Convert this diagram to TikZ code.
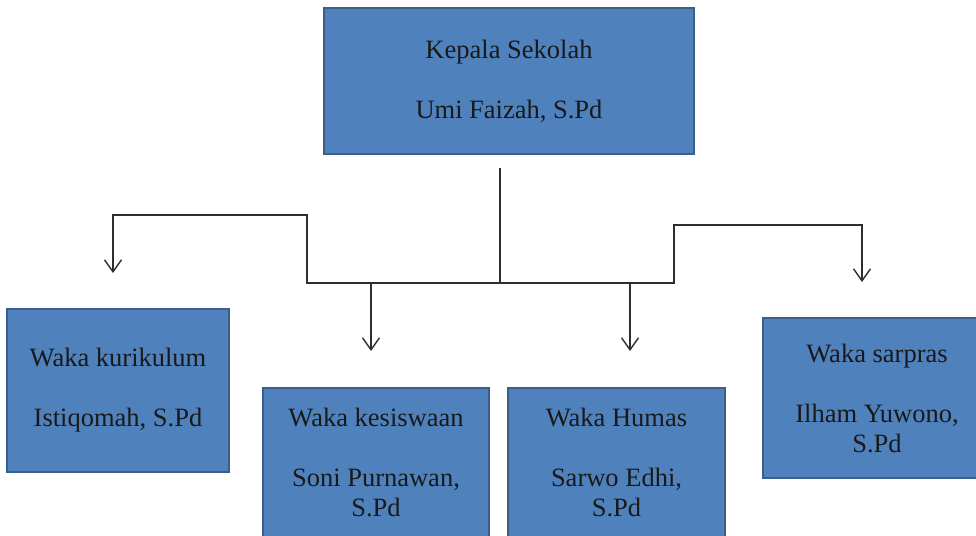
\documentclass[tikz,border=0pt]{standalone}
\usepackage{fontspec}
\setmainfont{Liberation Serif}
\usetikzlibrary{arrows.meta}
\definecolor{boxfill}{HTML}{4F81BD}
\definecolor{boxline}{HTML}{3A5F8B}
\definecolor{conncol}{HTML}{2E2E2E}
\begin{document}
\begin{tikzpicture}[x=1pt,y=-1pt,
  orgbox/.style={draw=boxline,line width=2.5pt,fill=boxfill,rectangle,align=center,inner sep=0pt,
    font=\fontsize{26.5}{30}\selectfont,text=black!90},
  conn/.style={draw=conncol,line width=1.4pt},
  arr/.style={conn,-{Straight Barb[length=12pt,width=17pt,line width=1.4pt]}}]
\useasboundingbox (0,0) rectangle (976,535);
\clip (0,0) rectangle (976,535);
% boxes
\node[orgbox,minimum width=370pt,minimum height=146pt] (kepala) at (509,81) {Kepala Sekolah\\[30pt]Umi Faizah, S.Pd};
\node[orgbox,minimum width=222pt,minimum height=163pt] (kuri) at (118,390.5) {Waka kurikulum\\[30pt]Istiqomah, S.Pd};
\node[orgbox,minimum width=226pt,minimum height=149pt] (kesis) at (376,462.5) {Waka kesiswaan\\[30pt]Soni Purnawan,\\S.Pd};
\node[orgbox,minimum width=217pt,minimum height=149pt] (humas) at (616.5,462.5) {Waka Humas\\[30pt]Sarwo Edhi,\\S.Pd};
\node[orgbox,minimum width=228pt,minimum height=160pt] (sarpras) at (877,398) {Waka sarpras\\[30pt]Ilham Yuwono,\\S.Pd};
% connector points
\coordinate (s) at (500,168);
\coordinate (j) at (500,283);
\coordinate (lb) at (307,283);
\coordinate (lt) at (307,215);
\coordinate (lk) at (113,215);
\coordinate (ktip) at (113,273);
\coordinate (rb) at (674,283);
\coordinate (rt) at (674,225);
\coordinate (rk) at (862,225);
\coordinate (stip) at (862,282);
\coordinate (m1) at (371,283);
\coordinate (m1tip) at (371,351);
\coordinate (m2) at (630,283);
\coordinate (m2tip) at (630,351);
% connectors
\draw[conn] (s) -- (j);
\draw[arr] (j) -- (lb) -- (lt) -- (lk) -- (ktip);
\draw[arr] (j) -- (rb) -- (rt) -- (rk) -- (stip);
\draw[arr] (m1) -- (m1tip);
\draw[arr] (m2) -- (m2tip);
\end{tikzpicture}
\end{document}
